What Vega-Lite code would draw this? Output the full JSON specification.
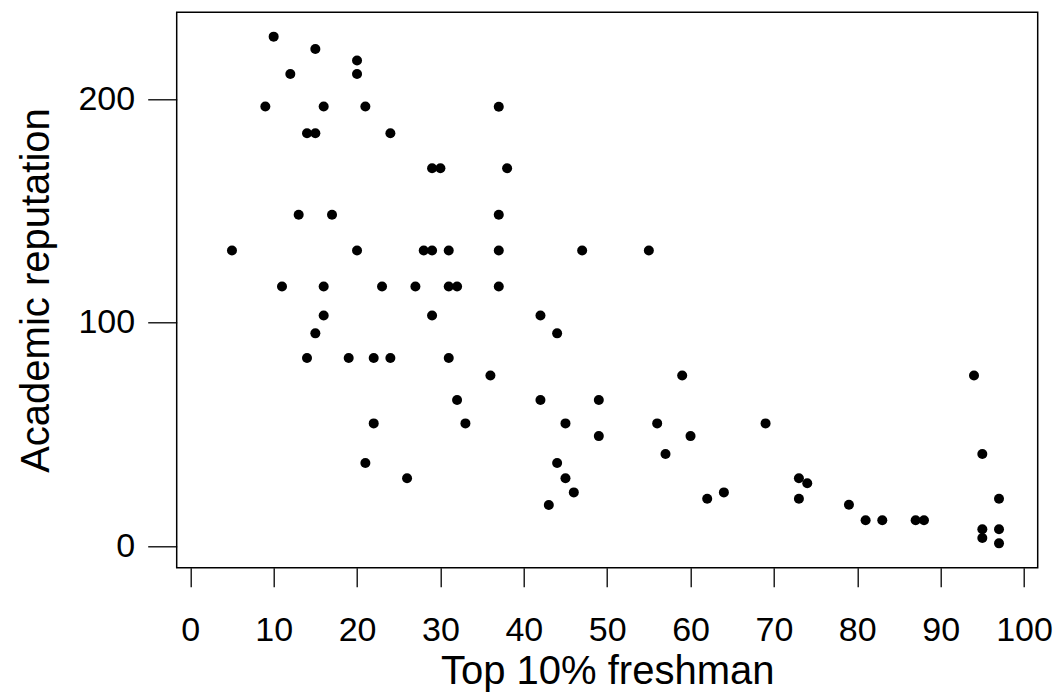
{
  "$schema": "https://vega.github.io/schema/vega-lite/v6.json",
  "width": 861,
  "height": 555.4,
  "autosize": {"type": "none"},
  "padding": {"left": 176.7, "top": 12.3, "right": 16.3, "bottom": 125.3},
  "background": "white",
  "config": {
    "view": {"stroke": "black", "strokeWidth": 1.5},
    "font": "Liberation Sans",
    "axis": {
      "grid": false,
      "domain": false,
      "tickColor": "black",
      "tickWidth": 1.3,
      "labelColor": "black",
      "titleColor": "black",
      "labelFont": "Liberation Sans",
      "titleFont": "Liberation Sans",
      "labelFontSize": 34,
      "titleFontSize": 40,
      "titleFontWeight": "normal",
      "labelOverlap": false,
      "labelBound": false,
      "labelFlush": false
    }
  },
  "data": {
    "values": [
      {"top10": 10, "reputation": 228.0},
      {"top10": 15, "reputation": 222.5},
      {"top10": 20, "reputation": 217.3},
      {"top10": 12, "reputation": 211.3},
      {"top10": 20, "reputation": 211.3},
      {"top10": 9, "reputation": 196.7},
      {"top10": 16, "reputation": 196.7},
      {"top10": 21, "reputation": 196.7},
      {"top10": 37, "reputation": 196.6},
      {"top10": 14, "reputation": 184.8},
      {"top10": 15, "reputation": 184.8},
      {"top10": 24, "reputation": 184.8},
      {"top10": 29, "reputation": 169.1},
      {"top10": 30, "reputation": 169.1},
      {"top10": 38, "reputation": 169.1},
      {"top10": 13, "reputation": 148.3},
      {"top10": 17, "reputation": 148.3},
      {"top10": 37, "reputation": 148.3},
      {"top10": 5, "reputation": 132.3},
      {"top10": 20, "reputation": 132.3},
      {"top10": 28, "reputation": 132.3},
      {"top10": 29, "reputation": 132.3},
      {"top10": 31, "reputation": 132.3},
      {"top10": 37, "reputation": 132.3},
      {"top10": 47, "reputation": 132.3},
      {"top10": 55, "reputation": 132.3},
      {"top10": 11, "reputation": 116.2},
      {"top10": 16, "reputation": 116.2},
      {"top10": 23, "reputation": 116.2},
      {"top10": 27, "reputation": 116.2},
      {"top10": 31, "reputation": 116.2},
      {"top10": 32, "reputation": 116.2},
      {"top10": 37, "reputation": 116.2},
      {"top10": 16, "reputation": 103.2},
      {"top10": 29, "reputation": 103.2},
      {"top10": 42, "reputation": 103.2},
      {"top10": 15, "reputation": 95.2},
      {"top10": 44, "reputation": 95.2},
      {"top10": 14, "reputation": 84.2},
      {"top10": 19, "reputation": 84.2},
      {"top10": 22, "reputation": 84.2},
      {"top10": 24, "reputation": 84.2},
      {"top10": 31, "reputation": 84.2},
      {"top10": 36, "reputation": 76.3},
      {"top10": 59, "reputation": 76.3},
      {"top10": 94, "reputation": 76.3},
      {"top10": 32, "reputation": 65.4},
      {"top10": 42, "reputation": 65.4},
      {"top10": 49, "reputation": 65.4},
      {"top10": 22, "reputation": 54.9},
      {"top10": 33, "reputation": 54.9},
      {"top10": 45, "reputation": 54.9},
      {"top10": 56, "reputation": 54.9},
      {"top10": 69, "reputation": 54.9},
      {"top10": 49, "reputation": 49.2},
      {"top10": 60, "reputation": 49.2},
      {"top10": 57, "reputation": 41.2},
      {"top10": 95, "reputation": 41.2},
      {"top10": 21, "reputation": 37.2},
      {"top10": 44, "reputation": 37.2},
      {"top10": 26, "reputation": 30.3},
      {"top10": 45, "reputation": 30.3},
      {"top10": 73, "reputation": 30.3},
      {"top10": 74, "reputation": 28.1},
      {"top10": 46, "reputation": 24.0},
      {"top10": 64, "reputation": 24.0},
      {"top10": 62, "reputation": 21.2},
      {"top10": 73, "reputation": 21.2},
      {"top10": 97, "reputation": 21.2},
      {"top10": 43, "reputation": 18.4},
      {"top10": 79, "reputation": 18.5},
      {"top10": 81, "reputation": 11.5},
      {"top10": 83, "reputation": 11.5},
      {"top10": 87, "reputation": 11.5},
      {"top10": 88, "reputation": 11.5},
      {"top10": 95, "reputation": 7.5},
      {"top10": 97, "reputation": 7.5},
      {"top10": 95, "reputation": 3.6},
      {"top10": 97, "reputation": 1.2}
    ]
  },
  "mark": {"type": "point", "filled": true, "shape": "circle", "size": 100, "color": "black", "opacity": 1},
  "encoding": {
    "x": {
      "field": "top10",
      "type": "quantitative",
      "title": "Top 10% freshman",
      "scale": {"domain": [-1.63, 101.64], "nice": false, "zero": false},
      "axis": {
        "values": [0, 10, 20, 30, 40, 50, 60, 70, 80, 90, 100],
        "tickSize": 19,
        "labelPadding": 54,
        "labelBaseline": "alphabetic",
        "titleBaseline": "alphabetic",
        "titleY": 116
      }
    },
    "y": {
      "field": "reputation",
      "type": "quantitative",
      "title": "Academic reputation",
      "scale": {"domain": [-9.7, 238.9], "nice": false, "zero": false},
      "axis": {
        "values": [0, 100, 200],
        "tickSize": 29,
        "labelPadding": 13,
        "labelAlign": "right",
        "labelBaseline": "middle",
        "titleBaseline": "alphabetic",
        "titleAngle": -90,
        "titleX": -128
      }
    }
  }
}
